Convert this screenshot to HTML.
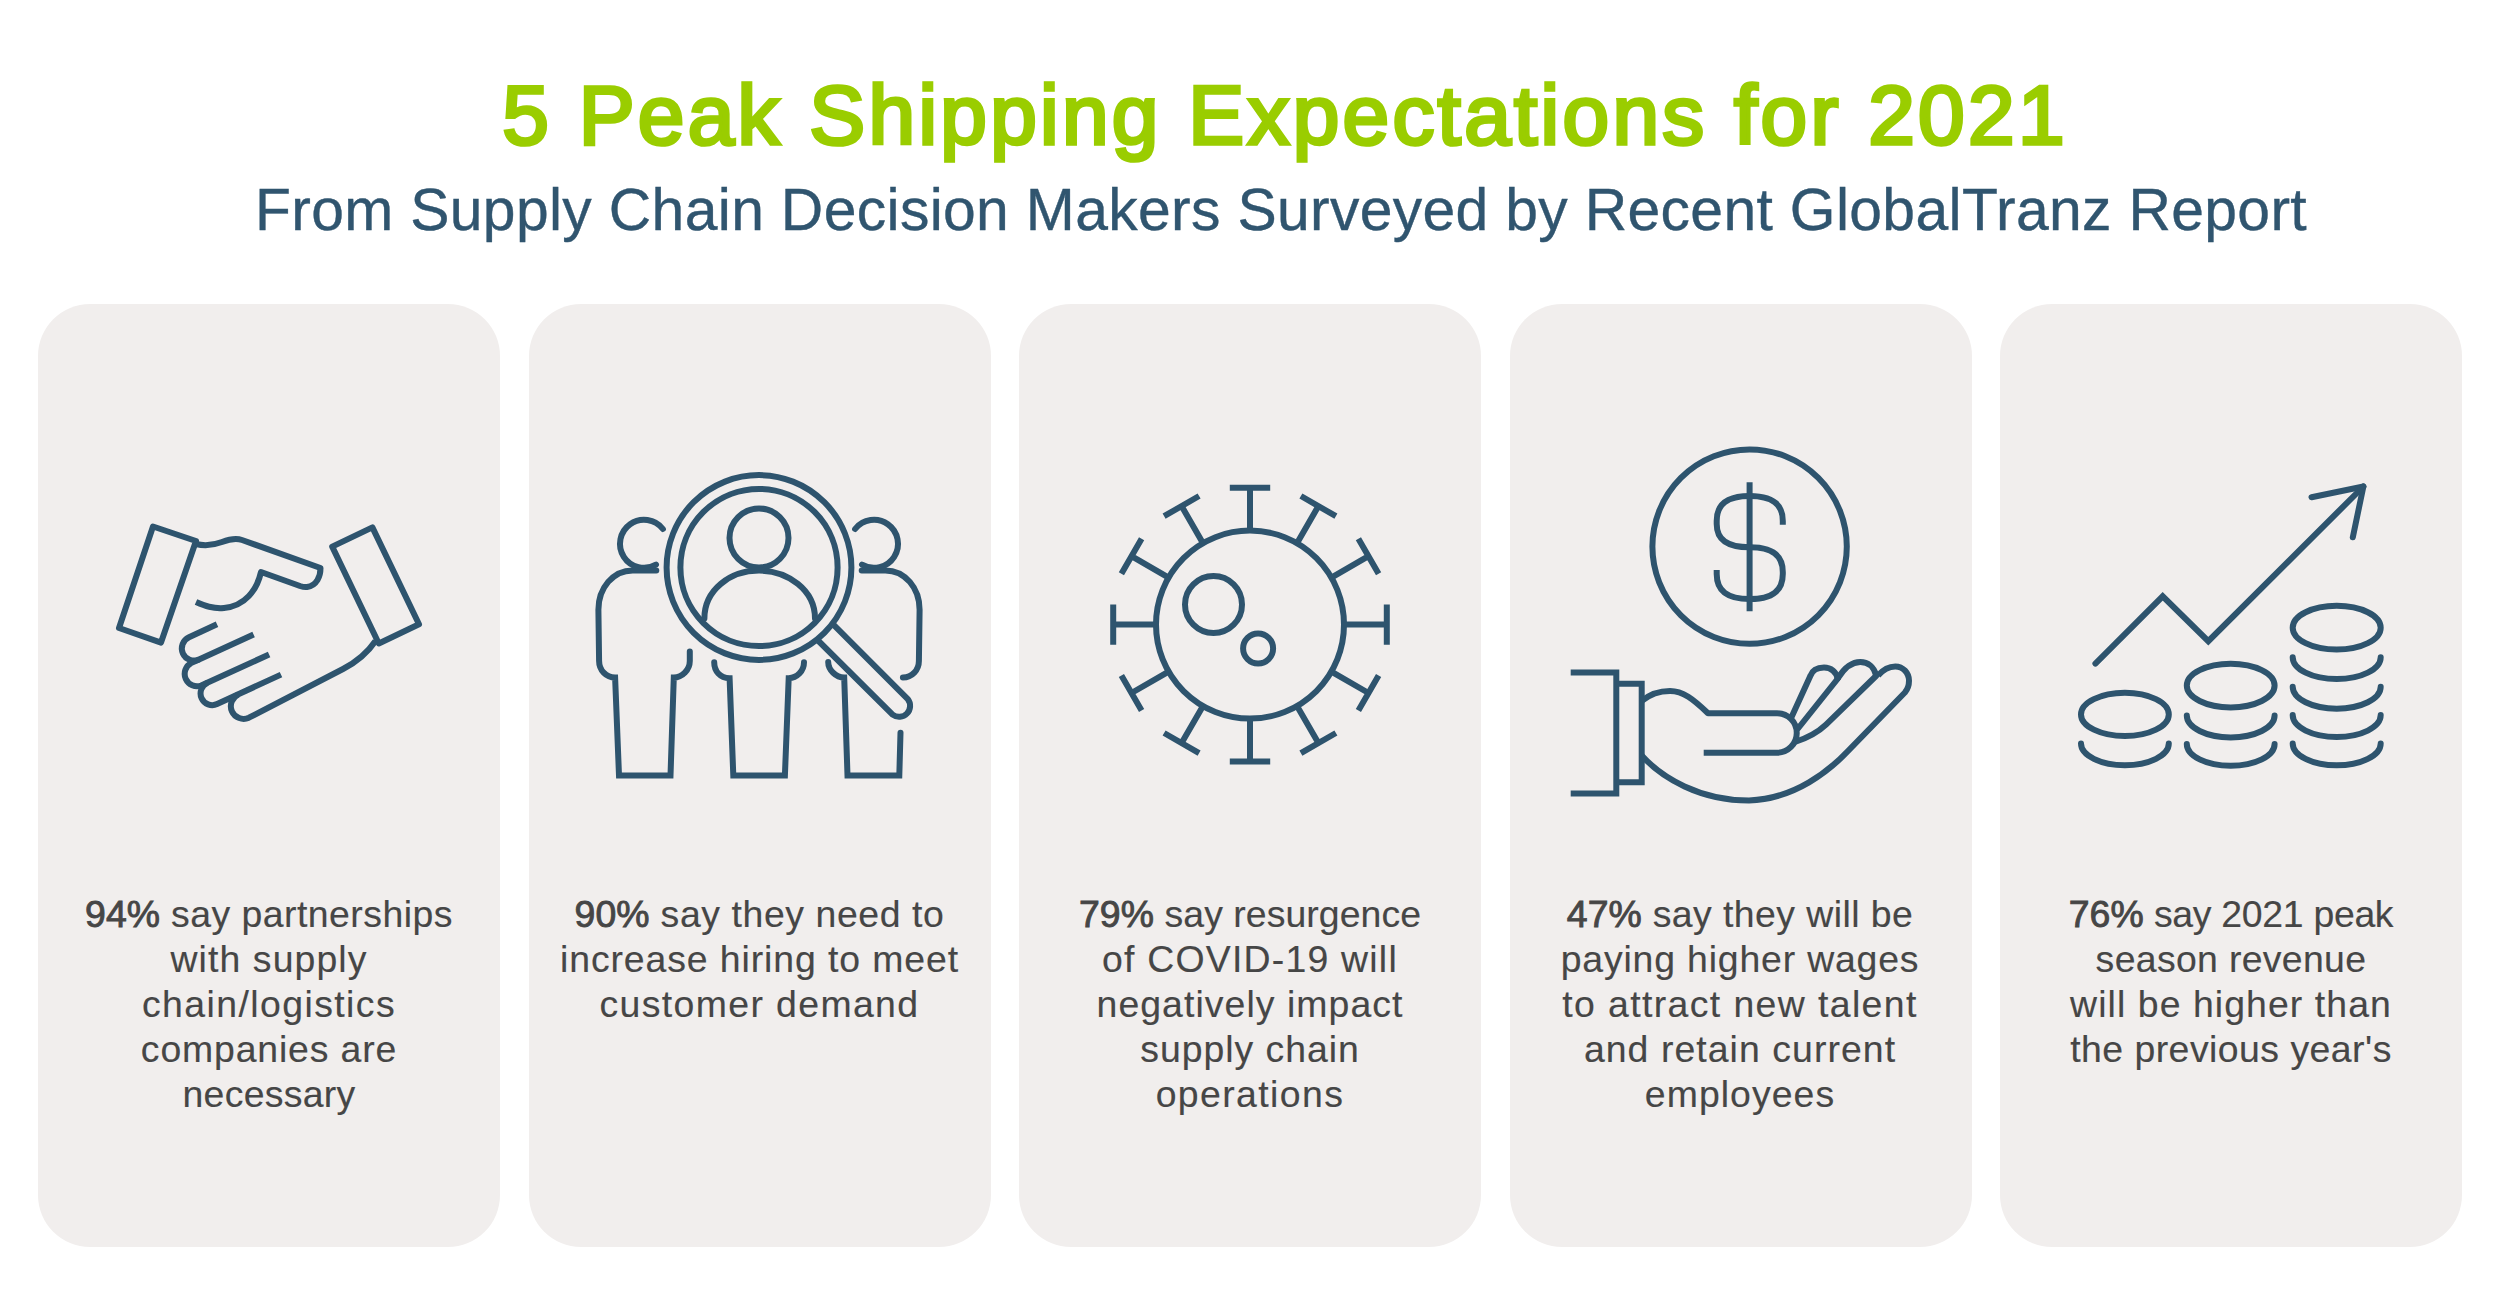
<!DOCTYPE html>
<html><head><meta charset="utf-8">
<style>
html,body{margin:0;padding:0;background:#fff;}
body{width:2500px;height:1313px;position:relative;overflow:hidden;font-family:"Liberation Sans",sans-serif;}
.title{position:absolute;left:2px;width:2566px;top:65.0px;height:100px;line-height:100px;text-align:center;font-weight:normal;-webkit-text-stroke:3.6px #9acd00;font-size:83.8px;color:#9acd00;letter-spacing:3.281px;white-space:nowrap;}
.sub{position:absolute;left:-2px;width:2566px;top:175px;height:70px;line-height:70px;text-align:center;font-size:58.8px;color:#30556f;-webkit-text-stroke:0.4px #30556f;letter-spacing:0.35px;white-space:nowrap;}
.card{position:absolute;top:304px;width:462px;height:943px;border-radius:52px;background:#f1eeed;}
.ln{position:absolute;width:1000px;text-align:center;font-size:37.4px;line-height:45px;height:45px;color:#464646;-webkit-text-stroke:0.15px #464646;white-space:nowrap;}
.ln b{font-weight:normal;letter-spacing:0.1px;-webkit-text-stroke:0.9px #464646;}
svg{position:absolute;left:0;top:0;}
</style></head><body>
<div class="title">5 Peak Shipping Expectations for 2021</div>
<div class="sub">From Supply Chain Decision Makers Surveyed by Recent GlobalTranz Report</div>
<div class="card" style="left:38px"></div>
<div class="card" style="left:528.5px"></div>
<div class="card" style="left:1019px"></div>
<div class="card" style="left:1509.5px"></div>
<div class="card" style="left:2000px"></div>
<div class="ln" style="left:-231px;top:891.5px;letter-spacing:0.471px"><b>94%</b> say partnerships</div>
<div class="ln" style="left:-231px;top:936.5px;letter-spacing:1.1px">with supply</div>
<div class="ln" style="left:-231px;top:981.5px;letter-spacing:1.429px">chain/logistics</div>
<div class="ln" style="left:-231px;top:1026.5px;letter-spacing:0.847px">companies are</div>
<div class="ln" style="left:-231px;top:1071.5px;letter-spacing:0.277px">necessary</div>
<div class="ln" style="left:259.5px;top:891.5px;letter-spacing:0.592px"><b>90%</b> say they need to</div>
<div class="ln" style="left:259.5px;top:936.5px;letter-spacing:0.9px">increase hiring to meet</div>
<div class="ln" style="left:259.5px;top:981.5px;letter-spacing:1.374px">customer demand</div>
<div class="ln" style="left:750px;top:891.5px;letter-spacing:0.064px"><b>79%</b> say resurgence</div>
<div class="ln" style="left:750px;top:936.5px;letter-spacing:1.218px">of COVID-19 will</div>
<div class="ln" style="left:750px;top:981.5px;letter-spacing:1.06px">negatively impact</div>
<div class="ln" style="left:750px;top:1026.5px;letter-spacing:0.961px">supply chain</div>
<div class="ln" style="left:750px;top:1071.5px;letter-spacing:1.41px">operations</div>
<div class="ln" style="left:1240px;top:891.5px;letter-spacing:0.433px"><b>47%</b> say they will be</div>
<div class="ln" style="left:1240px;top:936.5px;letter-spacing:0.828px">paying higher wages</div>
<div class="ln" style="left:1240px;top:981.5px;letter-spacing:1.39px">to attract new talent</div>
<div class="ln" style="left:1240px;top:1026.5px;letter-spacing:1.062px">and retain current</div>
<div class="ln" style="left:1240px;top:1071.5px;letter-spacing:1.05px">employees</div>
<div class="ln" style="left:1731px;top:891.5px;letter-spacing:-0.3px"><b>76%</b> say 2021 peak</div>
<div class="ln" style="left:1731px;top:936.5px;letter-spacing:0.335px">season revenue</div>
<div class="ln" style="left:1731px;top:981.5px;letter-spacing:1.075px">will be higher than</div>
<div class="ln" style="left:1731px;top:1026.5px;letter-spacing:0.473px">the previous year&#39;s</div>
<svg width="2500" height="1313" viewBox="0 0 2500 1313">
<g fill="none" stroke="#2e546e" stroke-width="6" stroke-linejoin="round" stroke-linecap="round">
<g stroke-linecap="butt">
<path d="M153,526.5 L196,541 L161,642.6 L119,628 Z"/>
<path d="M372.4,527.4 L419,624.3 L378.8,643.5 L332.2,546.6 Z"/>
<path d="M196,544 C204,546 214,545 222,542 C230,539 236,538 242,540 L320.5,568 C320.5,576 317,585.5 307,587 C305,587.3 303,587 300,586 L261,572 C257,590 245,606 224,608 C213,609 205,606 196,602"/>
<path d="M217,624.3 L189,637.3 A12.15,12.15 0 0 0 199,659.5 L253.6,634.4"/>
<path d="M199,659.5 L191,663.1 A12.35,12.35 0 0 0 201.2,685.5 L269.1,654.5"/>
<path d="M207.5,682.7 A11.7,11.7 0 0 0 217.1,704.1 L281,674.6"/>
<path d="M238.3,694.5 A12.75,12.75 0 0 0 248.9,717.7 L343,669 C355,662.8 368,652 375.5,641"/>
</g>
<circle cx="759" cy="567.5" r="92.4"/>
<circle cx="759" cy="567.5" r="78.6"/>
<circle cx="759" cy="538" r="29.5"/>
<path d="M704.4,618.4 C704.4,590 730,570.6 759,570.6 C788,570.6 815,590 815,618.4"/>
<path d="M832.4,623.7 L907.8,699.1 A11,11 0 0 1 892.6,714.7 L817,639.5" stroke-linecap="butt"/>
<path d="M662.9,529 A24,24 0 1 0 656,564.6"/>
<path stroke-linejoin="miter" d="M656.3,570.4 L632.7,570.4 C613,570.4 598.4,588 598.4,609.7 L599.1,661 C599.1,670 606,677.5 615.1,677.5 L619,775.5 L670.5,775.5 L673.8,677.5 C682,677.5 689.8,670 689.8,661 L689.8,651.6"/>
<path stroke-linejoin="miter" d="M714.2,662.2 C714.2,671 720,678 729.6,678.2 L733.3,775.5 L784.9,775.5 L788.7,678.2 C797,678 804,671 804,662.2"/>
<path d="M855.1,529 A24,24 0 1 1 862,564.6"/>
<path d="M861.7,570.4 L885.3,570.4 C905,570.4 919.6,588 919.6,609.7 L918.9,661 C918.9,670 912,677.5 902.9,677.5"/>
<path stroke-linejoin="miter" d="M900.5,732.7 L899.3,775.5 L847.5,775.5 L844.2,677.5 C836,677.5 828.2,670 828.2,662"/>
<circle cx="1250" cy="624.6" r="94"/>
<circle cx="1213.5" cy="604.5" r="28.5"/>
<circle cx="1258.1" cy="648.6" r="15"/>
<g stroke-linecap="butt">
<path d="M1250.0,530.6 L1250.0,487.8 M1270.2,487.8 L1229.8,487.8"/>
<path d="M1297.0,543.2 L1318.4,506.1 M1335.9,516.2 L1300.9,496.0"/>
<path d="M1331.4,577.6 L1368.5,556.2 M1378.6,573.7 L1358.4,538.7"/>
<path d="M1344.0,624.6 L1386.8,624.6 M1386.8,644.8 L1386.8,604.4"/>
<path d="M1331.4,671.6 L1368.5,693.0 M1358.4,710.5 L1378.6,675.5"/>
<path d="M1297.0,706.0 L1318.4,743.1 M1300.9,753.2 L1335.9,733.0"/>
<path d="M1250.0,718.6 L1250.0,761.4 M1229.8,761.4 L1270.2,761.4"/>
<path d="M1203.0,706.0 L1181.6,743.1 M1164.1,733.0 L1199.1,753.2"/>
<path d="M1168.6,671.6 L1131.5,693.0 M1121.4,675.5 L1141.6,710.5"/>
<path d="M1156.0,624.6 L1113.2,624.6 M1113.2,604.4 L1113.2,644.8"/>
<path d="M1168.6,577.6 L1131.5,556.2 M1141.6,538.7 L1121.4,573.7"/>
<path d="M1203.0,543.2 L1181.6,506.1 M1199.1,496.0 L1164.1,516.2"/>
</g>
<circle cx="1749.6" cy="546.6" r="97.2"/>
<g stroke-linecap="butt">
<path d="M1749.6,482.3 L1749.6,611.3"/>
<path d="M1782.8,524.7 L1782.8,521 C1782.8,504 1772.1,496 1749.7,496 C1727.3,496 1716.7,504 1716.7,521 L1716.7,524 C1716.7,539.8 1727.3,547.3 1749.7,547.3 C1772.1,547.3 1782.8,555.2 1782.8,572 L1782.8,574 C1782.8,591 1772.1,599 1749.7,599 C1727.3,599 1716.7,591 1716.7,574 L1716.7,570"/>
<path d="M1570.7,672.4 L1616.3,672.4 L1616.3,793.5 L1570.7,793.5" stroke-linejoin="miter"/>
<path d="M1616.3,683.7 L1641.7,683.7 L1641.7,782.3 L1616.3,782.3" stroke-linejoin="miter"/>
<path d="M1641.7,701 C1652,692.5 1661,691 1670,691 C1683,691 1693,699 1708,713.2 L1777,713.2 A19.75,19.75 0 0 1 1777,752.7 L1703.7,752.7"/>
<path d="M1641.7,755.5 C1662,778 1700,800.5 1749,800.5 C1795,799 1830,770 1848,751 L1904.9,692.5 C1907.5,689.5 1909,685.5 1909,680.8 C1909,673 1903,666.4 1895.3,666.4 C1889,666.4 1884,668.5 1878,675.5"/>
<path stroke-linecap="round" d="M1876,675 C1874,667 1868,662 1860.3,662 C1852,662 1845,667 1838.5,677.5"/>
<path stroke-linecap="round" d="M1837.5,678.5 C1836.5,672 1831,667.5 1824,667.5 C1818,667.5 1812.5,669.5 1810.3,676 L1791.7,716.8"/>
<path stroke-linecap="round" d="M1837.5,679 L1798,728.5"/>
<path stroke-linecap="round" d="M1876,676 L1826,724.7 Q1814,736 1795,742"/>
</g>
<path d="M2095.4,663.6 L2162.7,596.3 L2208.3,641.2 L2363.4,486.5" stroke-linejoin="miter"/>
<path d="M2311.5,497.2 L2363.4,486.5 L2352.8,537.3"/>
<ellipse cx="2124.9" cy="714.4" rx="43.9" ry="21.6"/>
<path d="M2081,743.6 A43.9,21.6 0 0 0 2168.8,743.6"/>
<ellipse cx="2230.7" cy="685.6" rx="43.9" ry="21.8"/>
<path d="M2186.8,715.6 A43.9,21.8 0 0 0 2274.6,715.6"/>
<path d="M2186.8,743.9 A43.9,21.8 0 0 0 2274.6,743.9"/>
<ellipse cx="2336.7" cy="627.7" rx="44" ry="21.9"/>
<path d="M2292.7,657.2 A44,21.9 0 0 0 2380.7,657.2"/>
<path d="M2292.7,686.8 A44,21.9 0 0 0 2380.7,686.8"/>
<path d="M2292.7,715.1 A44,21.9 0 0 0 2380.7,715.1"/>
<path d="M2292.7,743.4 A44,21.9 0 0 0 2380.7,743.4"/>
</g>
</svg>
</body></html>
